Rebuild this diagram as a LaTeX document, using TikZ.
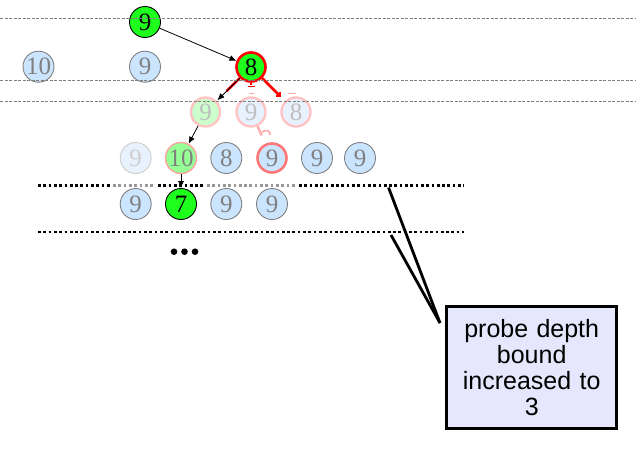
\documentclass[tikz,border=0pt]{standalone}
\usepackage{fontspec}
\setmainfont{Liberation Sans}
\newfontfamily\serifnum{Liberation Serif}
\usetikzlibrary{arrows.meta,calc}
\definecolor{lblue}{RGB}{204,229,255}
\definecolor{fblue}{RGB}{232,242,255}
\definecolor{vgreen}{RGB}{30,255,30}
\definecolor{mgreen}{RGB}{150,255,150}
\definecolor{fgreen}{RGB}{204,255,204}
\definecolor{pinkb}{RGB}{255,195,195}
\definecolor{redb}{RGB}{255,120,120}
\definecolor{lav}{RGB}{230,230,252}
\definecolor{dgray}{RGB}{128,128,128}
\definecolor{lgray}{RGB}{190,190,190}
\definecolor{vlgray}{RGB}{205,205,205}
\begin{document}
\begin{tikzpicture}[x=1pt,y=-1pt,
  nd/.style={circle,minimum size=31pt,inner sep=0pt,
    font=\serifnum\fontsize{25}{25}\selectfont,line width=0.9pt},
  bl/.style={nd,fill=lblue,draw=dgray,text=dgray},
  gr/.style={nd,fill=vgreen,draw=black,text=black},
  cur/.style={nd,fill=vgreen,draw=red,text=black,line width=2.6pt,minimum size=29pt},
  fgr/.style={nd,fill=fgreen,draw=pinkb,text=lgray,line width=2.4pt,minimum size=29pt},
  fbl/.style={nd,fill=fblue,draw=pinkb,text=lgray,line width=2.4pt,minimum size=29pt},
  vfaint/.style={nd,fill=fblue,draw=vlgray,text=vlgray},
  mgr/.style={nd,fill=mgreen,draw=redb!70,text=dgray,line width=1.4pt},
  rbl/.style={nd,fill=lblue,draw=redb,text=dgray,line width=2.6pt,minimum size=29pt},
  guide/.style={dgray,line width=0.7pt,dash pattern=on 3pt off 1.5pt},
  bound/.style={black,line width=2.7pt,dash pattern=on 2.7pt off 2.6pt},
  boundg/.style={lgray!80!black,line width=2.7pt,dash pattern=on 2.7pt off 2.6pt},
  arr/.style={-{Latex[length=7pt,width=6pt]},black,line width=0.8pt},
  redseg/.style={red,line width=2.6pt},
  pinkseg/.style={redb!60,line width=2.4pt},
  callout/.style={draw=black,line width=3pt,fill=lav,align=center,
    font=\fontsize{25}{26}\selectfont,text width=165pt,minimum width=170pt,minimum height=121.5pt,inner sep=0pt},
  cline/.style={black,line width=2.8pt}
]
\useasboundingbox (0,0) rectangle (636,473);

% depth bound lines
\draw[bound] (38,185.5) -- (110,185.5);
\draw[boundg] (113,185.5) -- (155,185.5);
\draw[bound] (158,185.5) -- (203,185.5);
\draw[boundg] (207,185.5) -- (295,185.5);
\draw[bound] (299,185.5) -- (464,185.5);
\draw[bound] (38,232) -- (464,232);

% row 0
\node[gr] (r0) at (145,22) {9};
% row 1
\node[bl] (a1) at (38.5,66.7) {10};
\node[bl] (a2) at (145,66.7) {9};
\node[cur] (a3) at (251,67) {8};
% row 2
\node[fgr] (b1) at (205.5,112) {9};
\node[fbl] (b2) at (251,112) {9};
\node[fbl] (b3) at (296,112) {8};
% row 3
\node[vfaint] (c1) at (135.7,158) {9};
\node[mgr] (c2) at (181,158) {10};
\node[bl] (c3) at (226.3,158) {8};
\node[rbl] (c4) at (272,158) {9};
\node[bl] (c5) at (317,158) {9};
\node[bl] (c6) at (360,158) {9};
% row 4
\node[bl] (d1) at (135.7,204) {9};
\node[gr] (d2) at (181,204) {7};
\node[bl] (d3) at (226.3,204) {9};
\node[bl] (d4) at (272,204) {9};

% more
\fill (174,251.7) circle (3.3) (184.5,251.7) circle (3.3) (195,251.7) circle (3.3);

% connectors
\draw[arr] (r0) -- (a3);
\draw[redseg, shorten >=14pt] (a3) -- (b1);
\draw[arr, shorten >=1pt] (a3) -- (b1);
\draw[redseg, shorten >=11pt] (a3) -- (b2);
\draw[red, line width=1.6pt] (247.5,86.5) -- (254.5,86.5);
\draw[pinkseg, line width=1.4pt] (248.5,93.5) -- (253.5,93.5);
\draw[redseg, -{Straight Barb[length=3pt,width=6pt]}, shorten >=5pt] (a3) -- (b3);
\draw[pinkseg, line width=1.4pt] (288,93.5) -- (296,93.5);
\draw[arr] (b1) -- (c2);
\draw[pinkseg, shorten >=9pt] (b2) -- (c4);
\draw[pinkseg, line width=1.8pt] (262,132) .. controls (266,129) and (271,131) .. (270,135);
\draw[arr] (c2) -- (d2);

% guide lines (on top)
\draw[guide] (0,18.3) -- (636,18.3);
\draw[guide] (0,80) -- (636,80);
\draw[guide] (0,101) -- (636,101);

% callout
\node[callout] (note) at (531.7,367.3) {probe depth\\bound\\increased to\\3};
\coordinate (tip) at (440,323);
\coordinate (u1) at (388.5,187.5);
\coordinate (u2) at (391,235);
\draw[cline] (tip) -- (u1);
\draw[cline] (tip) -- (u2);
\end{tikzpicture}
\end{document}
